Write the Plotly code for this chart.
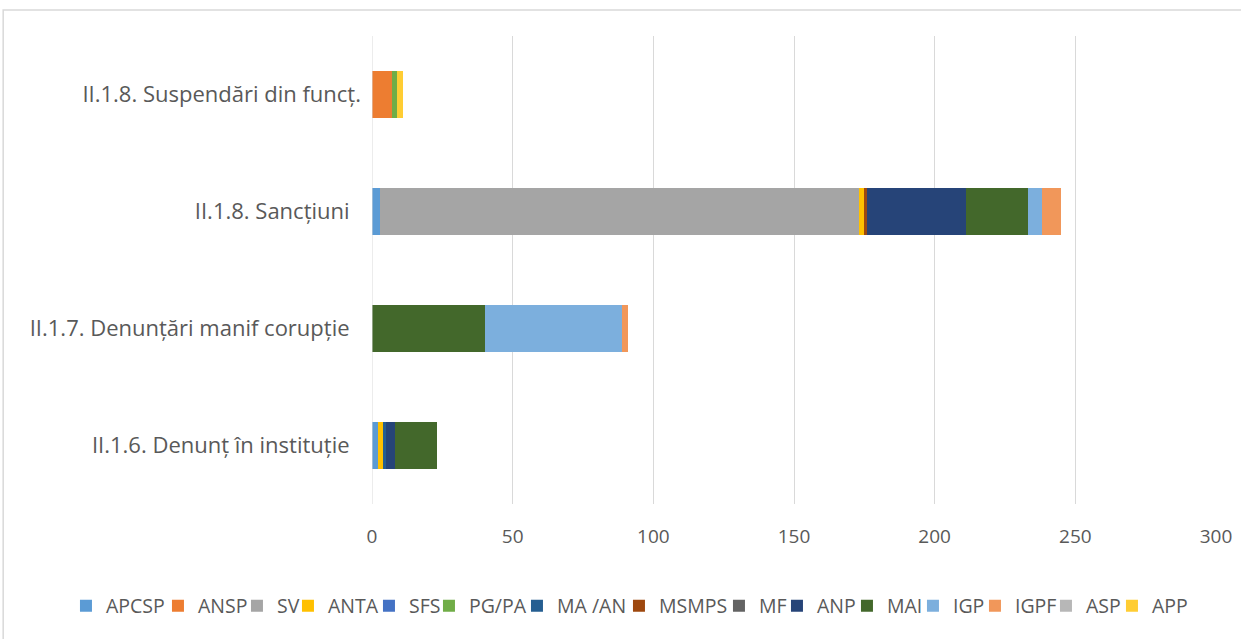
import plotly.graph_objects as go

categories = ["II.1.6. Denunț în instituție", "II.1.7. Denunțări manif corupție",
              "II.1.8. Sancțiuni", "II.1.8. Suspendări din funcț."]

series_names = ["APCSP", "ANSP", "SV", "ANTA", "SFS", "PG/PA", "MA /AN", "MSMPS",
                "MF", "ANP", "MAI", "IGP", "IGPF", "ASP", "APP"]

APCSP = [2, 0, 3, 0]
ANSP = [0, 0, 0, 7]
SV = [0, 0, 170, 0]
ANTA = [2, 0, 2, 0]
SFS = [0, 0, 0, 0]
PG_PA = [0, 0, 0, 2]
MA_AN = [1, 0, 0, 0]
MSMPS = [0, 0, 1, 0]
MF = [0, 0, 0, 0]
ANP = [3, 0, 35, 0]
MAI = [15, 40, 22, 0]
IGP = [0, 49, 5, 0]
IGPF = [0, 2, 7, 0]
ASP = [0, 0, 0, 0]
APP = [0, 0, 0, 2]

series_values = [APCSP, ANSP, SV, ANTA, SFS, PG_PA, MA_AN, MSMPS, MF, ANP, MAI, IGP, IGPF, ASP, APP]

x_ticks = [0, 50, 100, 150, 200, 250, 300]

# ---- styling ----
colors = ["#5B9BD5", "#ED7D31", "#A5A5A5", "#FFC000", "#4472C4", "#70AD47", "#255E91",
          "#9E480E", "#636363", "#264478", "#43682B", "#7CAFDD", "#F1975A", "#B7B7B7", "#FFCD33"]
legend_entry_widths = [47, 34, 6, 36, 15, 43, 57, 55, 13, 25, 21, 17, 26, 21, 45]
# the source labels carry trailing blanks (all but the last one)
label_padding = ["\u00a0\u00a0", "\u00a0\u00a0", "\u00a0\u00a0", ""]

font_family = "'Open Sans', Lato, sans-serif"
text_color = "#595959"

fig = go.Figure()
for name, vals, col, lw in zip(series_names, series_values, colors, legend_entry_widths):
    fig.add_trace(go.Bar(
        y=categories, x=vals, name=name, orientation="h",
        marker=dict(color=col, line=dict(width=0)),
        legendwidth=lw,
    ))

fig.update_layout(
    barmode="stack",
    bargap=0.59,
    width=1241, height=639,
    margin=dict(l=372, r=25, t=36, b=135, autoexpand=False),
    paper_bgcolor="white", plot_bgcolor="white",
    font=dict(family=font_family, size=19, color=text_color),
    xaxis=dict(range=[0, 300], tickvals=x_ticks, showgrid=True, gridcolor="#D9D9D9",
               gridwidth=1, zeroline=False, showline=False, ticks="",
               tickfont=dict(size=19, color=text_color), ticklabelstandoff=19),
    yaxis=dict(categoryorder="array", categoryarray=categories,
               tickvals=categories,
               ticktext=[c + p for c, p in zip(categories, label_padding)],
               showgrid=False, zeroline=False, showline=False, ticks="",
               ticklabelstandoff=10, tickfont=dict(size=22, color=text_color)),
    legend=dict(orientation="h", x=-0.3626, xanchor="left", y=-0.218, yanchor="middle",
                font=dict(size=19.5, color=text_color), traceorder="normal",
                itemwidth=30, tracegroupgap=0, bgcolor="rgba(0,0,0,0)"),
    showlegend=True,
    shapes=[
        dict(type="line", xref="x", yref="paper", x0=0, x1=0, y0=0, y1=1,
             line=dict(color="#D9D9D9", width=1)),
        dict(type="rect", xref="paper", yref="paper", x0=-0.437, x1=1.2, y0=-0.6, y1=1.0556,
             line=dict(color="#D9D9D9", width=1.5), fillcolor="rgba(0,0,0,0)", layer="below"),
    ],
)

fig.write_html("out.html",
               config={"displayModeBar": False},
               post_script="document.body.style.margin='0';document.body.style.overflow='hidden';")
